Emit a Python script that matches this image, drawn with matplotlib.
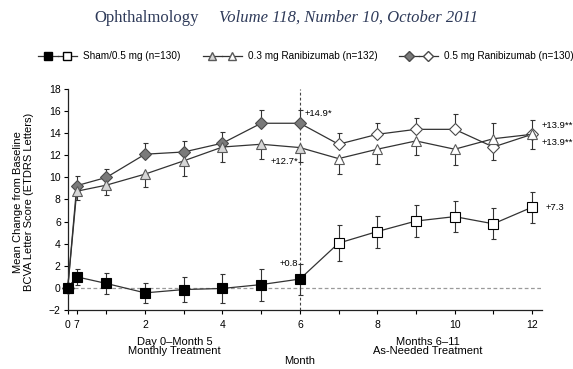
import matplotlib
matplotlib.use("Agg")
import matplotlib.pyplot as plt
from matplotlib.lines import Line2D
from matplotlib.legend_handler import HandlerTuple

plt.rcParams['font.family'] = ['Liberation Sans', 'DejaVu Sans']

# visit times in months (day 0, day 7, then monthly)
months = [0, 7 / 30, 1, 2, 3, 4, 5, 6, 7, 8, 9, 10, 11, 12]
n_monthly = 8  # day 0 .. month 6 are the monthly-treatment visits (filled markers)

sham = [0, 1.0, 0.4, -0.45, -0.15, -0.05, 0.3, 0.8, 4.05, 5.1, 6.05, 6.45, 5.8, 7.3]
sham_err = [0, 0.75, 0.95, 0.9, 1.1, 1.3, 1.45, 1.4, 1.6, 1.45, 1.45, 1.4, 1.4, 1.4]

r03 = [0, 8.75, 9.3, 10.3, 11.5, 12.75, 13.0, 12.7, 11.7, 12.55, 13.3, 12.55, 13.5, 13.9]
r03_err = [0, 0.8, 0.9, 1.15, 1.35, 1.35, 1.3, 1.3, 1.4, 1.3, 1.3, 1.45, 1.45, 1.3]

r05 = [0, 9.25, 10.0, 12.1, 12.3, 13.1, 14.9, 14.9, 13.0, 13.9, 14.35, 14.35, 12.75, 13.9]
r05_err = [0, 0.85, 0.75, 1.0, 1.0, 1.0, 1.2, 1.2, 1.0, 1.05, 1.05, 1.35, 1.2, 1.3]

# one-sided bars: 0.5 mg up, 0.3 mg down, swapped at month 11
r05_up = [e if m != 11 else 0 for m, e in zip(months, r05_err)]
r05_dn = [0 if m != 11 else e for m, e in zip(months, r05_err)]
r03_up = [0 if m != 11 else e for m, e in zip(months, r03_err)]
r03_dn = [e if m != 11 else 0 for m, e in zip(months, r03_err)]

xtick_pos = [0, 7 / 30, 1, 2, 3, 4, 5, 6, 7, 8, 9, 10, 11, 12]
xtick_lab = ["0", "7", "", "2", "", "4", "", "6", "", "8", "", "10", "", "12"]

line_col = "#333333"

fig = plt.figure(figsize=(5.73, 3.69), dpi=100)
ax = fig.add_axes([0.1182, 0.1599, 0.8272, 0.5989])


def draw_series(y, lo, hi, marker, fill, edge, ms, z):
    ax.errorbar(months, y, yerr=[lo, hi], fmt="none", ecolor=line_col,
                elinewidth=0.8, capsize=1.8, capthick=0.8, zorder=z, clip_on=False)
    ax.plot(months, y, color=line_col, lw=0.9, zorder=z + 0.1, clip_on=False)
    ax.plot(months[:n_monthly], y[:n_monthly], ls="none", marker=marker, ms=ms,
            mfc=fill, mec=edge, mew=0.8, zorder=z + 0.2, clip_on=False)
    ax.plot(months[n_monthly:], y[n_monthly:], ls="none", marker=marker, ms=ms,
            mfc="white", mec=edge, mew=0.8, zorder=z + 0.2, clip_on=False)


ax.axhline(0, color="#9a9a9a", lw=0.9, ls=(0, (3, 2)), zorder=1)
ax.axvline(6, color="#444444", lw=0.8, ls=(0, (2.5, 2)), zorder=1)

draw_series(r05, r05_dn, r05_up, "D", "#7a7a7a", "#4a4a4a", 6.5, 3)
draw_series(r03, r03_dn, r03_up, "^", "#d6d6d6", "#5a5a5a", 7, 4)
draw_series(sham, sham_err, sham_err, "s", "black", "black", 7, 5)

# value labels
fs = 6.8
ax.text(6.12, r05[7] + 0.9, f"+{r05[7]:.1f}*", fontsize=fs, ha="left", va="center")
ax.text(5.97, r03[7] - 1.25, f"+{r03[7]:.1f}*", fontsize=fs, ha="right", va="center")
ax.text(5.95, sham[7] + 1.4, f"+{sham[7]:.1f}", fontsize=fs, ha="right", va="center")
ax.text(12.24, r05[-1] + 0.8, f"+{r05[-1]:.1f}**", fontsize=fs, ha="left", va="center")
ax.text(12.24, r03[-1] - 0.7, f"+{r03[-1]:.1f}**", fontsize=fs, ha="left", va="center")
ax.text(12.35, sham[-1], f"+{sham[-1]:.1f}", fontsize=fs, ha="left", va="center")

ax.set_xlim(0, 12.25)
ax.set_ylim(-2, 18)
ax.set_yticks(range(-2, 19, 2))
ax.set_xticks(xtick_pos)
ax.set_xticklabels(xtick_lab)
ax.tick_params(axis="both", direction="out", length=3, width=0.8, labelsize=7.5, pad=2)
ax.tick_params(axis="x", pad=4)
for s in ["top", "right"]:
    ax.spines[s].set_visible(False)
for s in ["left", "bottom"]:
    ax.spines[s].set_linewidth(0.9)
    ax.spines[s].set_color("#222222")

ax.set_ylabel("Mean Change from Baseline\nBCVA Letter Score (ETDRS Letters)",
              fontsize=8, linespacing=1.1)
ax.yaxis.set_label_coords(-0.072, 0.49)

xtr = ax.get_xaxis_transform()
ax.text(2.76, -0.165, "Day 0\u2013Month 5\nMonthly Treatment", fontsize=8, transform=xtr,
        ha="center", va="center", linespacing=0.95)
ax.text(9.3, -0.165, "Months 6\u201311\nAs-Needed Treatment", fontsize=8, transform=xtr,
        ha="center", va="center", linespacing=0.95)
ax.text(6.0, -0.232, "Month", fontsize=8, transform=xtr, ha="center", va="center")

# legend
h_sham = (Line2D([], [], color=line_col, lw=0.9, marker="s", ms=5.5, mfc="black", mec="black"),
          Line2D([], [], color=line_col, lw=0.9, marker="s", ms=5.5, mfc="white", mec="black"))
h_03 = (Line2D([], [], color=line_col, lw=0.9, marker="^", ms=6, mfc="#d6d6d6", mec="#5a5a5a"),
        Line2D([], [], color=line_col, lw=0.9, marker="^", ms=6, mfc="white", mec="#5a5a5a"))
h_05 = (Line2D([], [], color=line_col, lw=0.9, marker="D", ms=5.5, mfc="#7a7a7a", mec="#4a4a4a"),
        Line2D([], [], color=line_col, lw=0.9, marker="D", ms=5.5, mfc="white", mec="#4a4a4a"))
fig.legend([h_sham, h_03, h_05],
           ["Sham/0.5 mg (n=130)", "0.3 mg Ranibizumab (n=132)", "0.5 mg Ranibizumab (n=130)"],
           handler_map={tuple: HandlerTuple(ndivide=None, pad=0)},
           ncol=3, loc="center", bbox_to_anchor=(0.534, 1 - 56 / 369), frameon=False,
           fontsize=7.2, handlelength=3.9, handletextpad=0.6, columnspacing=2.2, numpoints=1)

# journal header
title_col = "#2e3a59"
fig.text(94 / 573, 1 - 18 / 369, "Ophthalmology", fontsize=12, color=title_col,
         family=["Liberation Serif", "DejaVu Serif"], ha="left", va="center")
fig.text(219 / 573, 1 - 18 / 369, "Volume 118, Number 10, October 2011", fontsize=12,
         color=title_col, style="italic", family=["Liberation Serif", "DejaVu Serif"],
         ha="left", va="center")

fig.savefig("out.png", dpi=100)
